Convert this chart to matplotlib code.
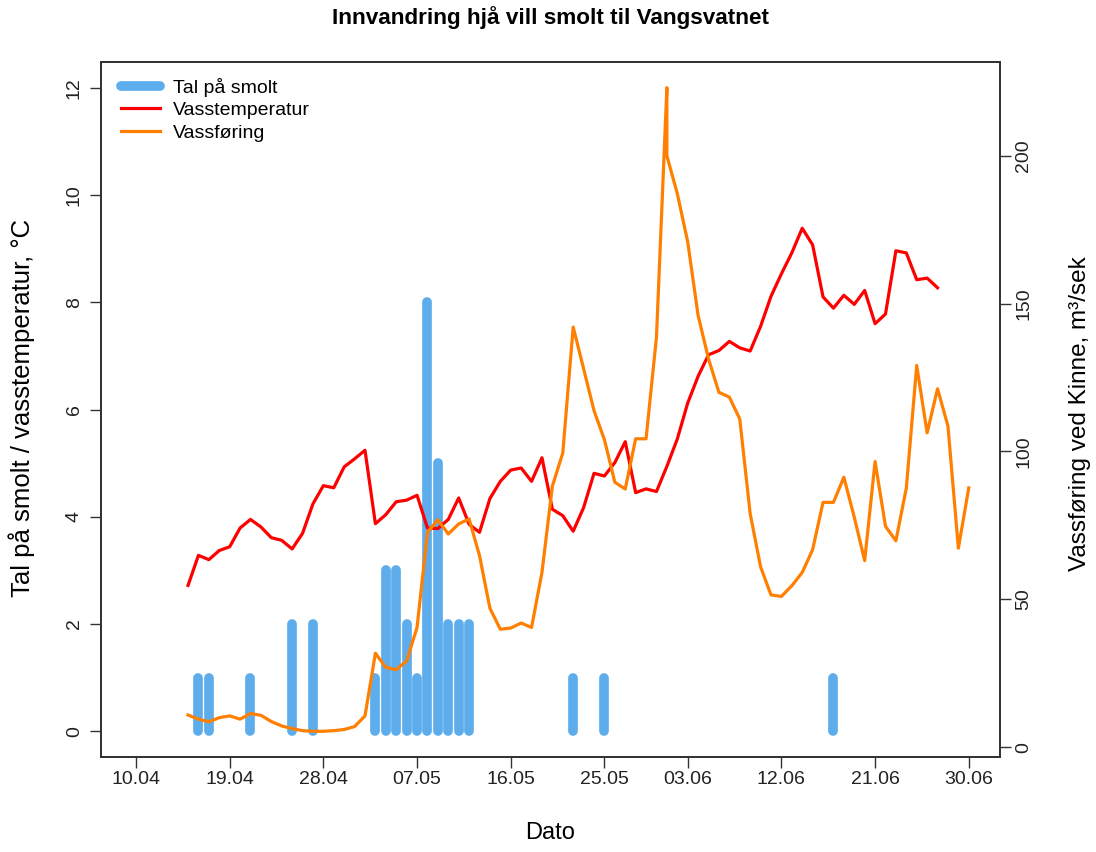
import matplotlib
matplotlib.use("Agg")
import matplotlib.pyplot as plt
from matplotlib.lines import Line2D

plt.rcParams['font.family'] = ['Liberation Sans', 'DejaVu Sans']

# ---- data (day 0 = 10.04) ----
smolt_days = [6, 7, 11, 15, 17, 23, 24, 25, 26, 27, 28, 29, 30, 31, 32, 42, 45, 67]
smolt_count = [1, 1, 1, 2, 2, 1, 3, 3, 2, 1, 8, 5, 2, 2, 2, 1, 1, 1]

temp_days = list(range(5, 78))
temp_vals = [2.72, 3.28, 3.20, 3.37, 3.44, 3.79, 3.95, 3.81, 3.61, 3.56,
             3.40, 3.69, 4.24, 4.58, 4.54, 4.93, 5.08, 5.24, 3.87, 4.04,
             4.28, 4.31, 4.40, 3.79, 3.78, 3.95, 4.35, 3.86, 3.71, 4.34,
             4.66, 4.87, 4.91, 4.66, 5.10, 4.14, 4.02, 3.73, 4.17, 4.81,
             4.76, 5.01, 5.40, 4.45, 4.52, 4.47, 4.94, 5.45, 6.12, 6.62,
             7.02, 7.10, 7.27, 7.15, 7.09, 7.55, 8.11, 8.53, 8.92, 9.38,
             9.07, 8.10, 7.89, 8.13, 7.96, 8.22, 7.60, 7.78, 8.96, 8.92,
             8.42, 8.45, 8.27]

flow_days = list(range(5, 52)) + list(range(51, 81))
flow_vals = [10.9, 9.5, 8.6, 10.0, 10.6, 9.5, 11.4, 10.8, 8.7, 7.2,
             6.3, 5.6, 5.4, 5.4, 5.6, 6.0, 7.0, 10.6, 31.8, 27.0,
             26.2, 29.2, 40.5, 72.7, 76.9, 72.1, 75.5, 77.2, 64.8, 47.0,
             39.9, 40.3, 42.0, 40.5, 59.1, 88.3, 99.5, 142.1, 128.0, 113.8,
             104.0, 89.6, 87.3, 104.3, 104.3, 138.7, 223.0,
             200.0, 187.2, 170.9, 146.0, 131.3, 120.0, 118.4, 111.0, 79.0, 61.0,
             51.5, 51.0, 54.6, 59.1, 66.8, 82.8, 82.8, 91.3, 77.8, 63.1,
             96.6, 74.7, 69.8, 87.6, 129.1, 106.3, 121.2, 108.6, 67.3, 87.7]

tick_days = [0, 9, 18, 27, 36, 45, 53, 62, 71, 80]
tick_labels = ['10.04', '19.04', '28.04', '07.05', '16.05', '25.05',
               '03.06', '12.06', '21.06', '30.06']

c_blue = '#5DADEC'
c_red = '#FF0000'
c_orange = '#FF7F00'

W, H = 1096, 852
fig = plt.figure(figsize=(W / 100, H / 100), dpi=100)
ax = fig.add_axes([101 / W, 1 - 757 / H, 899 / W, 695 / H])

ax.vlines(smolt_days, 0, smolt_count, colors=c_blue, linewidth=7, capstyle='round', zorder=2)
ax.plot(temp_days, temp_vals, color=c_red, linewidth=2.3, zorder=3)
ax.set_xlim(-3.36, 83.0)
ax.set_ylim(-0.48, 12.48)
ax.set_yticks([0, 2, 4, 6, 8, 10, 12])
ax.set_xticks(tick_days)
ax.set_xticklabels(tick_labels)
for lab in ax.get_yticklabels():
    lab.set_rotation(90)
    lab.set_va('center')

ax2 = ax.twinx()
ax2.plot(flow_days, flow_vals, color=c_orange, linewidth=2.3, zorder=3)
ax2.set_ylim(-3.3, 231.7)
ax2.set_yticks([0, 50, 100, 150, 200])
for lab in ax2.get_yticklabels():
    lab.set_rotation(90)
    lab.set_va('center')

for a in (ax, ax2):
    for s in a.spines.values():
        s.set_color('#333333')
        s.set_linewidth(1.3)
    a.tick_params(direction='out', length=8, width=1, color='#333333',
                  labelsize=14, pad=5, labelcolor='#222222')
ax.tick_params(axis='x', pad=2)
ax2.tick_params(axis='y', pad=3)

fig.text(550 / W, 1 - 833 / H, 'Dato', fontsize=17, ha='center', va='center')
fig.text(22 / W, 1 - 408 / H, 'Tal på smolt / vasstemperatur, °C', fontsize=18.5,
         rotation=90, ha='center', va='center')
fig.text(1080 / W, 1 - 414 / H, 'Vassføring ved Kinne, m³/sek', fontsize=17.5,
         rotation=90, ha='center', va='center')
fig.text(551 / W, 1 - 18 / H, 'Innvandring hjå vill smolt til Vangsvatnet', fontsize=16.2,
         fontweight='bold', ha='center', va='center')

handles = [Line2D([0], [0], color=c_blue, linewidth=7, solid_capstyle='round'),
           Line2D([0], [0], color=c_red, linewidth=2.3),
           Line2D([0], [0], color=c_orange, linewidth=2.3)]
ax2.legend(handles, ['Tal på smolt', 'Vasstemperatur', 'Vassføring'],
           loc='upper left', frameon=False, fontsize=14, handlelength=2.0,
           handletextpad=0.7, labelspacing=0.25, borderaxespad=0.0,
           bbox_to_anchor=(12 / 899, 1 - 8 / 695))

fig.savefig('out.png', dpi=100)
